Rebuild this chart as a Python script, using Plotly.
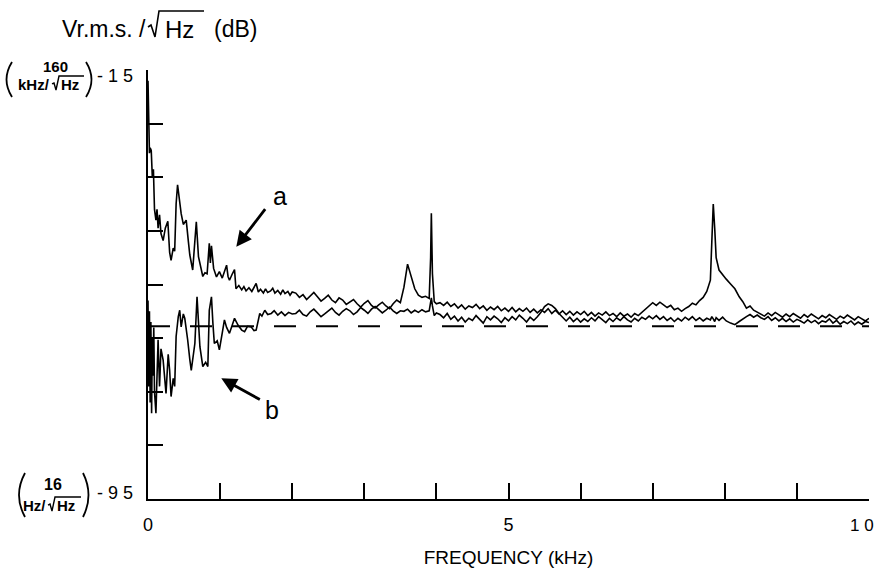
import plotly.graph_objects as go

# ---------------- data ----------------
# trace "a" low-frequency part (kHz, dB)
freq_a_low = [0.0, 0.01, 0.02, 0.03, 0.045, 0.06, 0.075, 0.09, 0.11, 0.125,
              0.14, 0.16, 0.18, 0.21, 0.24, 0.275, 0.3, 0.32, 0.35, 0.37,
              0.39, 0.41, 0.44, 0.46, 0.49, 0.51, 0.53, 0.56, 0.58, 0.62,
              0.645, 0.67, 0.70, 0.73, 0.76, 0.79, 0.82, 0.85, 0.865, 0.88,
              0.91, 0.95, 0.99, 1.03, 1.06, 1.09, 1.11, 1.13, 1.17, 1.2,
              1.22, 1.26, 1.3, 1.33, 1.36, 1.4, 1.44, 1.47, 1.5, 1.53,
              1.56, 1.6, 1.63, 1.66, 1.7, 1.73, 1.76, 1.8, 1.84, 1.87,
              1.9, 1.94, 1.97, 2.0]
spec_a_low = [-17.0, -29.0, -30.5, -29.5, -30.0, -35.0, -33.5, -41.0, -43.0, -41.0,
              -44.5, -42.0, -45.5, -46.8, -44.5, -43.2, -49.0, -50.5, -48.2, -48.8,
              -40.0, -36.4, -39.5, -41.8, -43.8, -43.5, -43.0, -47.0, -49.5, -52.3,
              -48.0, -43.3, -49.8, -52.0, -53.5, -52.8, -53.0, -47.3, -51.0, -47.8,
              -52.0, -53.6, -52.6, -53.8, -52.5, -51.4, -53.5, -54.2, -53.0, -52.2,
              -55.8, -55.2, -56.0, -55.4, -56.2, -55.6, -56.3, -55.5, -54.8, -56.4,
              -55.9, -56.6, -55.8, -56.5, -56.2, -55.7, -56.6, -56.1, -56.8, -56.0,
              -56.7, -56.3, -57.0, -56.4]

# trace "b" low-frequency part
freq_b_low = [0.0, 0.01, 0.02, 0.03, 0.04, 0.05, 0.06, 0.07, 0.08, 0.09,
              0.11, 0.125, 0.14, 0.16, 0.18, 0.21, 0.23, 0.25, 0.28, 0.3,
              0.32, 0.35, 0.37, 0.39, 0.42, 0.44, 0.46, 0.49, 0.51, 0.53,
              0.55, 0.58, 0.6, 0.65, 0.68, 0.72, 0.76, 0.8, 0.83, 0.85,
              0.88, 0.9, 0.92, 0.96, 0.99, 1.03, 1.06, 1.09, 1.13, 1.17,
              1.2, 1.25, 1.3, 1.34, 1.38, 1.43, 1.47, 1.5, 1.53, 1.55,
              1.58, 1.62, 1.66, 1.71, 1.75, 1.8, 1.85, 1.9, 1.95, 2.0]
spec_b_low = [-58.0, -74.0, -60.0, -77.0, -62.0, -79.0, -65.0, -72.0, -63.0, -75.0,
              -79.0, -70.0, -65.3, -74.0, -67.0, -69.1, -73.0, -75.3, -68.0, -71.0,
              -75.9, -72.5, -74.0, -64.7, -61.0, -59.8, -62.9, -60.5, -61.3, -63.0,
              -65.3, -69.0, -71.0, -66.0, -57.3, -66.6, -70.3, -69.5, -70.3, -59.8,
              -57.3, -62.2, -66.0, -65.5, -67.2, -64.0, -61.6, -63.0, -64.1, -62.5,
              -61.3, -62.6, -63.5, -63.8, -62.8, -62.9, -63.6, -63.5, -61.8, -60.4,
              -60.9, -59.8, -60.6, -60.4, -59.9, -60.7, -60.1, -60.8, -60.2, -60.5]

# shared frequency grid above 2 kHz
freq_hi = [2.05, 2.1, 2.15, 2.2, 2.25, 2.3, 2.35, 2.4, 2.45, 2.5,
           2.55, 2.6, 2.65, 2.7, 2.75, 2.8, 2.85, 2.9, 2.95, 3.0,
           3.05, 3.1, 3.15, 3.2, 3.25, 3.3, 3.35, 3.4, 3.45, 3.5,
           3.55, 3.6, 3.65, 3.7, 3.75, 3.8, 3.85, 3.9, 3.92, 3.93,
           3.945, 3.97, 4.0,
           4.05, 4.1, 4.15, 4.2, 4.25, 4.3, 4.35, 4.4, 4.45, 4.5,
           4.55, 4.6, 4.65, 4.7, 4.75, 4.8, 4.85, 4.9, 4.95, 5.0,
           5.05, 5.1, 5.15, 5.2, 5.25, 5.3, 5.35, 5.4, 5.45, 5.5,
           5.55, 5.6, 5.65, 5.7, 5.75, 5.8, 5.85, 5.9, 5.95, 6.0,
           6.05, 6.1, 6.15, 6.2, 6.25, 6.3, 6.35, 6.4, 6.45, 6.5,
           6.55, 6.6, 6.65, 6.7, 6.75, 6.8, 6.85, 6.9, 6.95, 7.0,
           7.05, 7.1, 7.15, 7.2, 7.25, 7.3, 7.35, 7.4, 7.45, 7.5,
           7.55, 7.6, 7.65, 7.7, 7.75,
           7.8, 7.82, 7.84, 7.86, 7.88, 7.92, 7.97, 8.02, 8.08, 8.14,
           8.2, 8.25, 8.3, 8.35, 8.4, 8.45, 8.5,
           8.55, 8.6, 8.65, 8.7, 8.75, 8.8, 8.85, 8.9, 8.95, 9.0,
           9.05, 9.1, 9.15, 9.2, 9.25, 9.3, 9.35, 9.4, 9.45, 9.5,
           9.55, 9.6, 9.65, 9.7, 9.75, 9.8, 9.85, 9.9, 9.95, 10.0]

spec_a_hi = [-56.6, -57.4, -56.9, -57.8, -57.2, -56.5, -57.3, -58.1, -57.6, -57.0,
             -57.9, -58.4, -57.5, -57.9, -58.7, -58.2, -57.8, -58.6, -59.2, -58.5,
             -58.0, -58.9, -59.4, -58.8, -58.3, -59.0, -59.5, -58.6, -57.9, -58.4,
             -55.5, -51.2, -53.4, -55.8, -57.0, -57.4, -57.2, -57.6, -50.0, -41.7,
             -53.0, -58.2, -58.6,
             -58.4, -58.9, -58.3, -59.1, -58.6, -59.4, -58.8, -59.6, -59.0, -59.3,
             -58.7, -59.5, -59.0, -59.8, -59.2, -59.7, -59.1, -59.9, -59.4, -60.0,
             -59.3, -60.1, -59.5, -60.0, -59.4, -60.2, -59.6, -60.3, -59.7, -60.2,
             -59.5, -60.4, -59.8, -60.5, -59.9, -60.6, -60.0, -60.7, -60.1, -60.6,
             -60.0, -60.8, -60.2, -60.9, -60.3, -60.7, -60.1, -60.8, -60.4, -61.0,
             -60.3, -60.9, -60.5, -61.1, -60.4, -60.8, -60.2, -59.6, -59.0, -58.4,
             -58.9, -58.3, -58.8, -59.3, -58.9, -59.7, -59.4, -60.0, -59.5, -59.1,
             -58.5, -58.8, -58.0, -57.4, -56.3,
             -54.2, -47.0, -40.0, -44.5, -50.0, -52.3, -53.2, -54.0, -54.9, -55.8,
             -57.3, -58.2, -59.4, -59.0, -59.8, -60.2, -60.6,
             -60.9, -60.3, -60.8, -60.2, -60.7, -61.1, -60.5, -61.0, -60.4, -60.9,
             -61.3, -60.6, -61.1, -60.5, -61.0, -61.4, -60.8, -61.2, -60.6, -61.1,
             -61.5, -60.9, -61.3, -60.7, -61.2, -61.6, -61.0, -61.4, -61.8, -61.3]

spec_b_hi = [-60.4, -59.8, -60.6, -60.9, -60.1, -59.6, -60.3, -61.0, -60.5, -59.9,
             -59.4, -60.2, -60.7, -60.0, -59.5, -59.9, -60.6, -60.1, -59.3, -59.8,
             -60.4, -59.6, -59.1, -59.7, -60.3, -59.8, -59.2, -59.9, -60.4, -59.9,
             -60.0, -59.6, -60.3, -59.8, -60.2, -59.7, -60.1, -59.9, -58.5, -57.5,
             -59.0, -60.8, -60.3,
             -60.6, -61.2, -60.4, -61.5, -60.9, -61.8, -61.1, -62.0, -61.3, -61.7,
             -60.8, -61.5, -62.2, -61.0, -61.6, -60.9, -61.4, -62.1, -61.2, -61.8,
             -61.0, -61.6, -60.7, -61.3, -62.0, -61.1, -61.7, -61.0, -60.2, -59.1,
             -58.6, -58.9, -59.5, -60.4, -61.2, -61.8, -61.1, -61.9, -61.3, -62.0,
             -61.4, -61.9, -61.2, -61.8, -61.0, -61.6, -62.1, -61.3, -61.9, -61.2,
             -61.7, -61.0, -61.6, -62.0, -61.3, -61.8, -61.1, -61.5, -60.9, -61.4,
             -60.8, -61.5, -61.0, -61.7, -61.2, -61.9, -61.3, -61.8, -61.1, -61.6,
             -61.0, -61.7, -61.2, -61.8, -61.3,
             -61.6, -61.0, -61.4, -61.9, -61.2, -61.7, -61.1, -61.8, -62.2, -62.5,
             -61.9, -61.4, -61.0, -60.6, -61.1, -60.7, -61.2,
             -61.5, -61.0, -61.7, -61.2, -61.8, -61.3, -61.9, -61.4, -62.0, -61.5,
             -61.8, -62.2, -61.6, -62.1, -61.7, -62.3, -61.8, -62.0, -61.4, -62.2,
             -61.7, -62.4, -61.9, -62.3, -61.8, -62.5, -62.0, -62.4, -61.9, -62.1]

# dashed reference level
freq_ref = [0.0, 10.0]
level_ref = [-62.8, -62.8]

# axis ticks (the last label "1 0" sits at the right edge, placed separately)
x_tickvals = [0, 1, 2, 3, 4, 5, 6, 7, 8, 9, 10]
x_ticktext = ["0", "", "", "", "", "5", "", "", "", "", ""]
x_last_label = "1 0"
y_tickvals = [-95, -85, -75, -65, -55, -45, -35, -25, -15]

assert len(freq_a_low) == len(spec_a_low)
assert len(freq_b_low) == len(spec_b_low)
assert len(freq_hi) == len(spec_a_hi) == len(spec_b_hi)

freq_a = freq_a_low + freq_hi
spec_a = spec_a_low + spec_a_hi
freq_b = freq_b_low + freq_hi
spec_b = spec_b_low + spec_b_hi

# ---------------- figure ----------------
W, H = 878, 579
ML, MR, MT, MB = 148, 9, 70, 80
PW, PH = W - ML - MR, H - MT - MB
FONT = "Liberation Sans, Arial, Helvetica, sans-serif"


def paper(xp, yp):
    return (xp - ML) / PW, (H - MB - yp) / PH


def pt(xp, yp):
    a, b = paper(xp, yp)
    return f"{a:.5f},{b:.5f}"


fig = go.Figure()
fig.add_trace(go.Scatter(x=freq_ref, y=level_ref, mode="lines",
                         line=dict(color="black", width=2, dash="22px,20px"),
                         hoverinfo="skip", showlegend=False))
fig.add_trace(go.Scatter(x=freq_b, y=spec_b, mode="lines", name="b",
                         line=dict(color="black", width=1.6), showlegend=False))
fig.add_trace(go.Scatter(x=freq_a, y=spec_a, mode="lines", name="a",
                         line=dict(color="black", width=1.6), showlegend=False))

annotations = []


def txt(text, xp, yp, size, bold=False, xanchor="center"):
    px_, py_ = paper(xp, yp)
    t = f"<b>{text}</b>" if bold else text
    annotations.append(dict(text=t, x=px_, y=py_, xref="paper", yref="paper",
                            xanchor=xanchor, yanchor="middle", showarrow=False,
                            font=dict(family=FONT, size=size, color="black")))


shapes = []


def radical(pts, width=1.6):
    path = "M " + " L ".join(pt(x, y) for x, y in pts)
    shapes.append(dict(type="path", xref="paper", yref="paper", path=path,
                       line=dict(color="black", width=width)))


def paren(x_end, x_mid, y0, y1, width=1.8):
    ym = (y0 + y1) / 2
    path = f"M {pt(x_end, y0)} Q {pt(x_mid, ym)} {pt(x_end, y1)}"
    shapes.append(dict(type="path", xref="paper", yref="paper", path=path,
                       line=dict(color="black", width=width)))


# axis unit label at top: Vr.m.s. /√Hz (dB)
txt("Vr.m.s. /", 148, 29, 23, xanchor="right")
radical([(148, 27), (151, 25), (155, 37), (159, 11), (204, 11)])
txt("Hz", 163, 29, 24, xanchor="left")
txt("(dB)", 212, 29, 23, xanchor="left")

# top label (160 kHz/√Hz) -15
paren(12, 1, 62, 97)
txt("160", 55, 66, 15, bold=True)
txt("kHz/", 52, 84, 15, bold=True, xanchor="right")
radical([(52, 84), (54, 83), (56, 90), (59, 76), (84, 76)], 1.4)
txt("Hz", 59, 84, 15, bold=True, xanchor="left")
paren(86, 97, 62, 97)
txt("- 1 5", 115, 76, 18)

# bottom label (16 Hz/√Hz) -95
paren(25, 13, 473, 517)
txt("16", 53, 484, 16, bold=True)
txt("Hz/", 48, 505, 15, bold=True, xanchor="right")
radical([(48, 505), (50, 504), (52, 511), (55, 497), (81, 497)], 1.4)
txt("Hz", 55, 505, 15, bold=True, xanchor="left")
paren(83, 94, 473, 517)
txt("- 9 5", 115, 493, 18)

# last x tick label, kept inside the page
txt(x_last_label, 876, 525, 17, xanchor="right")

# curve labels
txt("a", 280, 196, 25)
txt("b", 272, 410, 25)

# arrows
annotations.append(dict(x=1.225, y=-47.95, xref="x", yref="y", ax=30, ay=-39,
                        text="", showarrow=True, arrowhead=2, arrowsize=1.1,
                        arrowwidth=2.8, arrowcolor="black"))
annotations.append(dict(x=1.017, y=-72.5, xref="x", yref="y", ax=40, ay=22,
                        text="", showarrow=True, arrowhead=2, arrowsize=1.1,
                        arrowwidth=2.8, arrowcolor="black"))

fig.update_layout(
    width=W, height=H,
    margin=dict(l=ML, r=MR, t=MT, b=MB, pad=0, autoexpand=False),
    paper_bgcolor="white", plot_bgcolor="white",
    font=dict(family=FONT, color="black"),
    annotations=annotations, shapes=shapes,
    showlegend=False,
)
fig.update_xaxes(range=[0, 10], showline=True, linecolor="black", linewidth=1.5,
                 ticks="inside", ticklen=16, tickwidth=1.5, tickcolor="black",
                 tickvals=x_tickvals, ticktext=x_ticktext,
                 tickfont=dict(size=18, color="black", family=FONT),
                 ticklabelstandoff=9,
                 showgrid=False, zeroline=False, automargin=False,
                 title=dict(text="FREQUENCY (kHz)", standoff=16,
                            font=dict(size=19, color="black", family=FONT)))
fig.update_yaxes(range=[-95, -15], showline=True, linecolor="black", linewidth=1.5,
                 ticks="inside", ticklen=15, tickwidth=1.5, tickcolor="black",
                 tickvals=y_tickvals, showticklabels=False,
                 showgrid=False, zeroline=False, automargin=False)

fig.write_html("out.html")
